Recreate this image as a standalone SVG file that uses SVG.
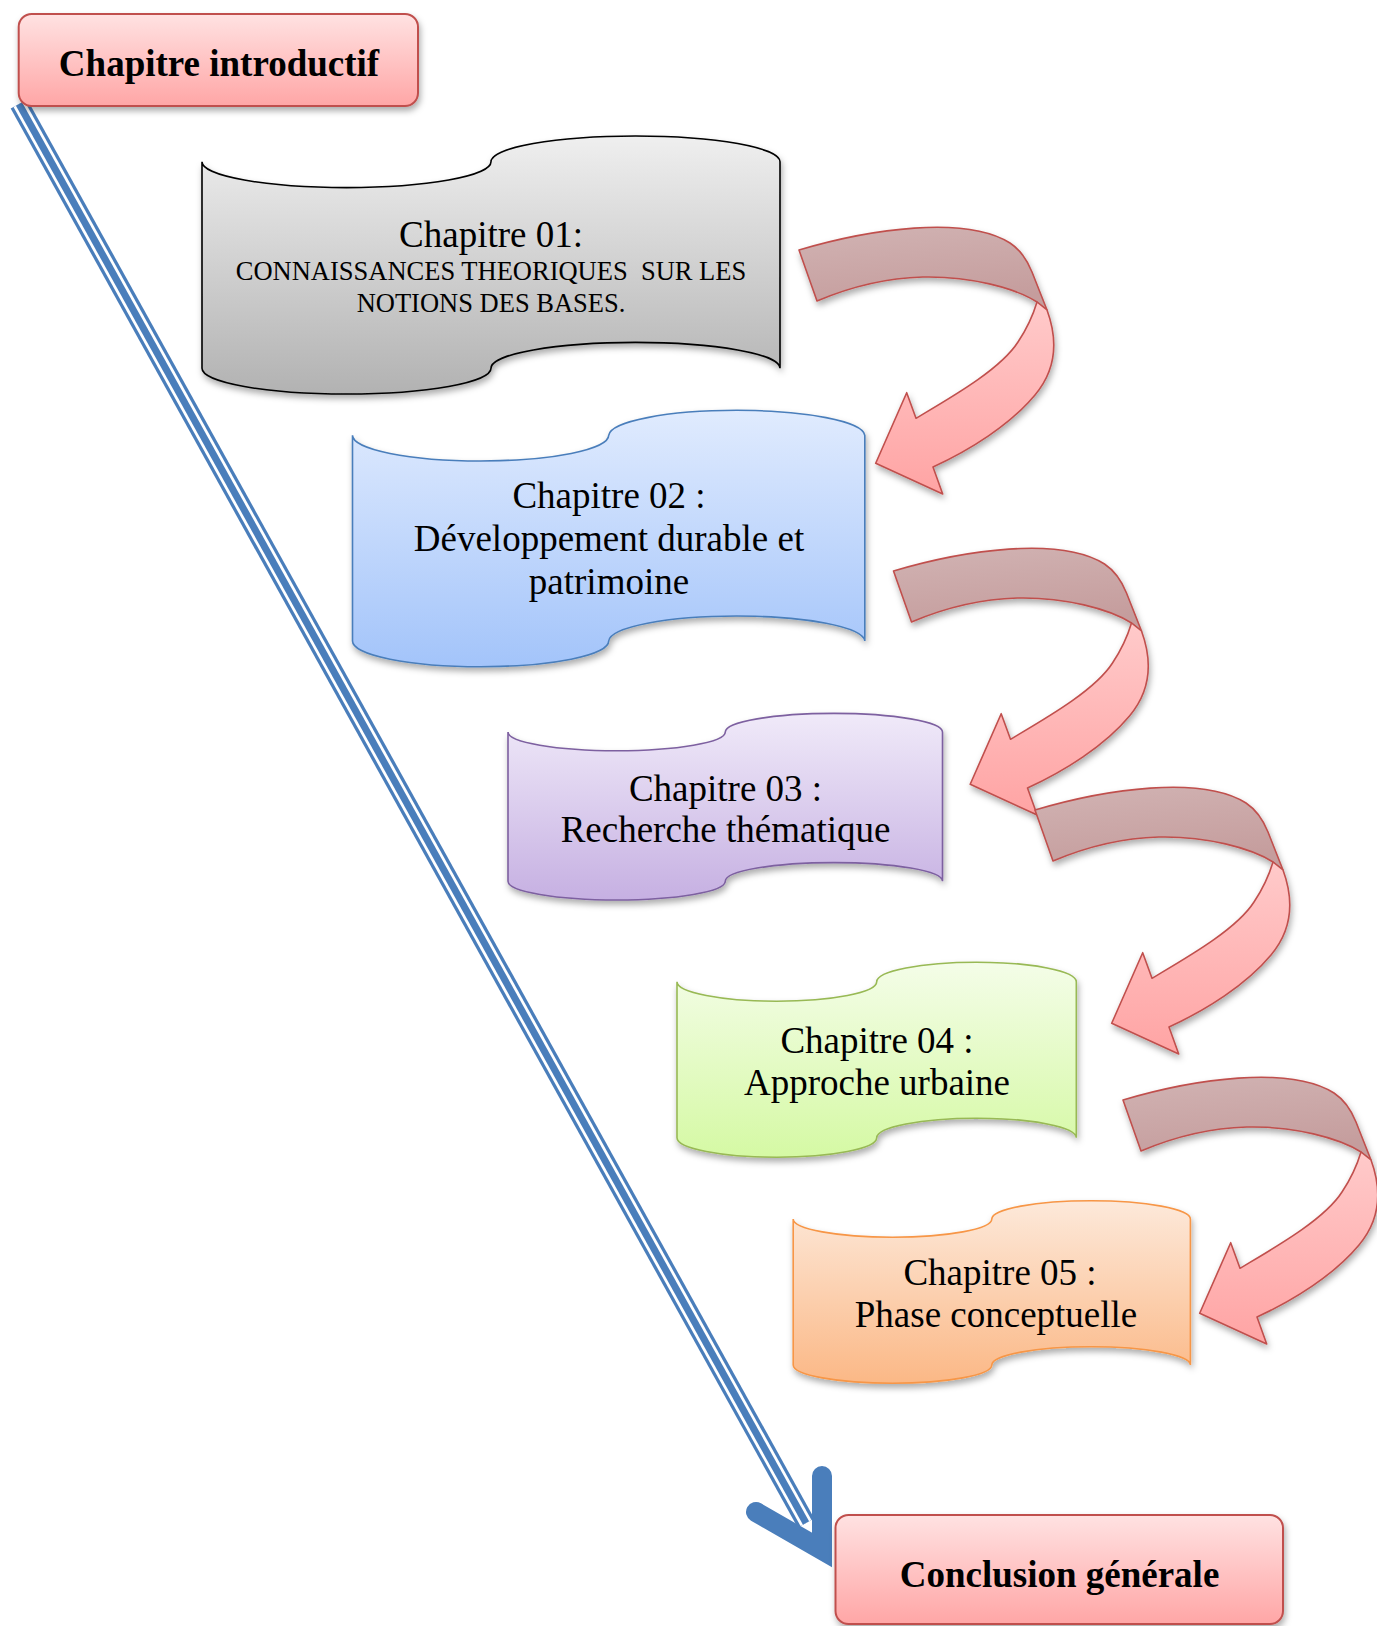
<svg xmlns="http://www.w3.org/2000/svg" xmlns:xlink="http://www.w3.org/1999/xlink" width="1377" height="1626" viewBox="0 0 1377 1626">
<style>
.t{font-family:"Liberation Serif","Times New Roman",serif;fill:#000;text-anchor:middle}
.h{font-size:37px}
.s{font-size:26.5px}
.b{font-size:37px;font-weight:bold}
.box{stroke:#c0504d;stroke-width:2;fill:url(#gRed)}
.arr{stroke:#c0504d;stroke-width:1.6;stroke-linejoin:round}
</style>
<defs>
<filter id="sh" x="-10%" y="-10%" width="125%" height="130%">
<feDropShadow dx="1.5" dy="4" stdDeviation="3" flood-color="#000" flood-opacity="0.32"/>
</filter>
<linearGradient id="gRed" x1="0" y1="0" x2="0" y2="1"><stop offset="0" stop-color="#ffe2e2"/><stop offset="1" stop-color="#ffa6a6"/></linearGradient>
<linearGradient id="gGray" x1="0" y1="0" x2="0" y2="1"><stop offset="0" stop-color="#efefef"/><stop offset="1" stop-color="#b2b2b2"/></linearGradient>
<linearGradient id="gBlue" x1="0" y1="0" x2="0" y2="1"><stop offset="0" stop-color="#e0ebfe"/><stop offset="1" stop-color="#a3c4fa"/></linearGradient>
<linearGradient id="gPurple" x1="0" y1="0" x2="0" y2="1"><stop offset="0" stop-color="#f0eaf9"/><stop offset="1" stop-color="#c6b0e2"/></linearGradient>
<linearGradient id="gGreen" x1="0" y1="0" x2="0" y2="1"><stop offset="0" stop-color="#f4fde8"/><stop offset="1" stop-color="#d5f9a4"/></linearGradient>
<linearGradient id="gOrange" x1="0" y1="0" x2="0" y2="1"><stop offset="0" stop-color="#fde9da"/><stop offset="1" stop-color="#fbb886"/></linearGradient>
<linearGradient id="gDark" x1="0" y1="0" x2="0.3" y2="1"><stop offset="0" stop-color="#d1b3b3"/><stop offset="1" stop-color="#c59d9d"/></linearGradient>
<linearGradient id="gLight" x1="0" y1="0" x2="0" y2="1"><stop offset="0" stop-color="#ffcaca"/><stop offset="1" stop-color="#ffa4a4"/></linearGradient>
<g id="curvedArrow">
<path class="arr" fill="url(#gDark)" d="M799,250 C870,229 965,215 1010,243 C1022,251 1028,262 1032,272 L1047,310 L1037,302 C1015,288 970,276 923,277 C885,278 850,287 817,301 Z"/>
<path class="arr" fill="url(#gLight)" d="M1037,302 L1047,310 C1058,340 1056,370 1035,395 C1010,425 970,450 933,467 L942.7,494 L875.7,463.3 L906.7,392.7 L916,418.3 C950,398 1000,370 1018,342 C1028,327 1034,312 1037,302 Z"/>
</g>
</defs>
<rect width="1377" height="1626" fill="#fff"/>

<g id="connectors">
<g id="main-line">
<line x1="19" y1="104" x2="806" y2="1523" stroke="#4a7ebb" stroke-width="19"/>
<line x1="19" y1="104" x2="806" y2="1523" stroke="#fff" stroke-width="12.5"/>
<line x1="19" y1="104" x2="806" y2="1523" stroke="#4a7ebb" stroke-width="7"/>
<path d="M756,1512 L822,1550 L822,1476" fill="none" stroke="#4a7ebb" stroke-width="20" stroke-linecap="round" stroke-linejoin="miter" stroke-miterlimit="6"/>
</g>
<g id="arrow1" filter="url(#sh)"><use xlink:href="#curvedArrow"/></g>
<g id="arrow2" filter="url(#sh)"><use xlink:href="#curvedArrow" transform="translate(94.5,321)"/></g>
<g id="arrow3" filter="url(#sh)"><use xlink:href="#curvedArrow" transform="translate(236,560)"/></g>
<g id="arrow4" filter="url(#sh)"><use xlink:href="#curvedArrow" transform="translate(324,850)"/></g>
</g>

<g id="intro">
<rect class="box" x="18.7" y="14" width="399.3" height="92" rx="13" filter="url(#sh)"/>
<text class="t b" x="219" y="75.5">Chapitre introductif</text>
</g>

<g id="ch01">
<path filter="url(#sh)" fill="url(#gGray)" stroke="#000" stroke-width="1.6" d="M202,161.8 A144.5,25.8 0 0 0 491,161.8 A144.5,25.8 0 0 1 780,161.8 L780,368.2 A144.5,25.8 0 0 0 491,368.2 A144.5,25.8 0 0 1 202,368.2 Z"/>
<text class="t h" x="491" y="247">Chapitre 01:</text>
<text class="t s" x="491" y="280" xml:space="preserve">CONNAISSANCES THEORIQUES  SUR LES</text>
<text class="t s" x="491" y="312">NOTIONS DES BASES.</text>
</g>

<g id="ch02">
<path filter="url(#sh)" fill="url(#gBlue)" stroke="#4a7ebb" stroke-width="1.6" d="M352.5,435.3 A128.1,25.7 0 0 0 608.7,435.3 A128.1,25.7 0 0 1 864.8,435.3 L864.8,641 A128.1,25.7 0 0 0 608.7,641 A128.1,25.7 0 0 1 352.5,641 Z"/>
<text class="t h" x="609" y="508">Chapitre 02 :</text>
<text class="t h" x="609" y="551">Développement durable et</text>
<text class="t h" x="609" y="594">patrimoine</text>
</g>

<g id="ch03">
<path filter="url(#sh)" fill="url(#gPurple)" stroke="#7d60a0" stroke-width="1.6" d="M508,732.1 A108.6,18.7 0 0 0 725.3,732.1 A108.6,18.7 0 0 1 942.5,732.1 L942.5,881.3 A108.6,18.7 0 0 0 725.3,881.3 A108.6,18.7 0 0 1 508,881.3 Z"/>
<text class="t h" x="725.5" y="800.5">Chapitre 03 :</text>
<text class="t h" x="725.5" y="842">Recherche thématique</text>
</g>

<g id="ch04">
<path filter="url(#sh)" fill="url(#gGreen)" stroke="#98b954" stroke-width="1.6" d="M677,981.7 A99.8,19.5 0 0 0 876.7,981.7 A99.8,19.5 0 0 1 1076.3,981.7 L1076.3,1137.7 A99.8,19.5 0 0 0 876.7,1137.7 A99.8,19.5 0 0 1 677,1137.7 Z"/>
<text class="t h" x="877" y="1052.5">Chapitre 04 :</text>
<text class="t h" x="877" y="1095">Approche urbaine</text>
</g>

<g id="ch05">
<path filter="url(#sh)" fill="url(#gOrange)" stroke="#f79646" stroke-width="1.6" d="M793.2,1219 A99.3,18.25 0 0 0 991.8,1219 A99.3,18.25 0 0 1 1190.4,1219 L1190.4,1365 A99.3,18.25 0 0 0 991.8,1365 A99.3,18.25 0 0 1 793.2,1365 Z"/>
<text class="t h" x="1000" y="1284.7">Chapitre 05 :</text>
<text class="t h" x="996" y="1327">Phase conceptuelle</text>
</g>

<g id="conclusion">
<rect class="box" x="835.5" y="1515" width="447.5" height="109" rx="13" filter="url(#sh)"/>
<text class="t b" x="1059.5" y="1586.5">Conclusion générale</text>
</g>
</svg>
